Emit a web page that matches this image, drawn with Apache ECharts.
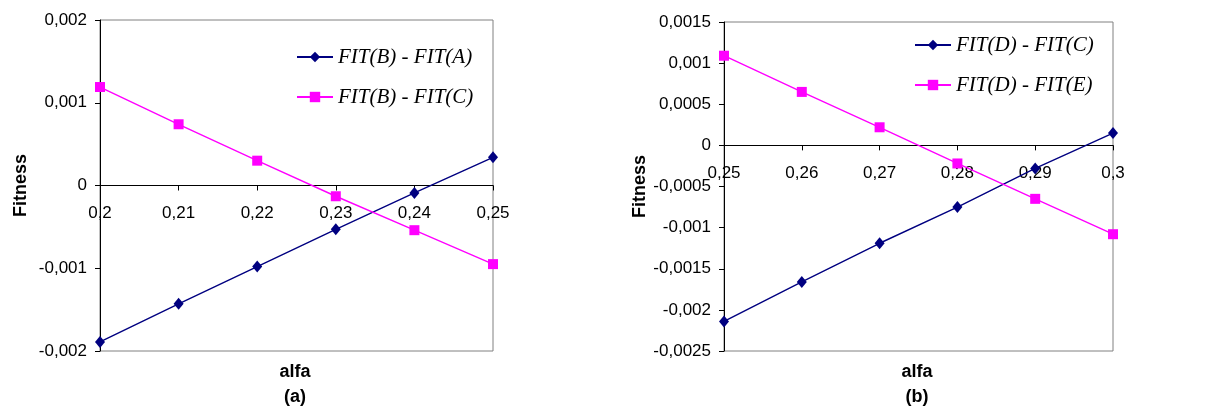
<!DOCTYPE html>
<html>
<head>
<meta charset="utf-8">
<script src="https://cdn.jsdelivr.net/npm/echarts@6/dist/echarts.min.js"></script>
<style>
html,body{margin:0;padding:0;background:#fff;}
#chart{width:1219px;height:412px;}
</style>
</head>
<body>
<div id="chart"></div>
<script>
const alfaA = ['0,2','0,21','0,22','0,23','0,24','0,25'];
const fitBminusA = [-0.00189,-0.00143,-0.00098,-0.00053,-0.00009,0.00034];
const fitBminusC = [0.00119,0.00074,0.00030,-0.00013,-0.00054,-0.00095];
const alfaB = ['0,25','0,26','0,27','0,28','0,29','0,3'];
const fitDminusC = [-0.00214,-0.00166,-0.00119,-0.00075,-0.00028,0.00015];
const fitDminusE = [0.00109,0.00065,0.00022,-0.00022,-0.00065,-0.00108];
const namesA = ['FIT(B) - FIT(A)','FIT(B) - FIT(C)'];
const namesB = ['FIT(D) - FIT(C)','FIT(D) - FIT(E)'];

const NAVY = '#000080', MAG = '#FF00FF';
const sans = 'Liberation Sans, Arial, sans-serif';
const serif = 'Liberation Serif, Times New Roman, serif';
const fmt = v => v === 0 ? '0' : String(+v.toFixed(5)).replace('.', ',');

const grids = [
  {left:100, top:20, width:393, height:331},
  {left:724, top:22, width:389, height:329}
];

function xAx(idx, cats){
  return {
    type:'category', gridIndex:idx, data:cats, boundaryGap:false, position:'bottom', offset:0,
    axisLine:{show:true, onZero:false, lineStyle:{color:'#000', width:1}},
    axisTick:{show:true, inside:false, length:5, lineStyle:{color:'#000'}},
    axisLabel:{color:'#000', fontFamily:sans, fontSize:17, margin:19},
    splitLine:{show:false}
  };
}
function yAx(idx, min, max, step, gap){
  return {
    type:'value', gridIndex:idx, min:min, max:max, interval:step,
    name:'Fitness', nameLocation:'middle', nameRotate:90, nameGap:gap,
    nameTextStyle:{color:'#000', fontFamily:sans, fontSize:18, fontWeight:'bold'},
    axisLine:{show:true, lineStyle:{color:'#000', width:1}},
    axisTick:{show:true, inside:false, length:5, lineStyle:{color:'#000'}},
    axisLabel:{color:'#000', fontFamily:sans, fontSize:17, margin:13, formatter:fmt},
    splitLine:{show:false}
  };
}
function ser(name, xi, data, color, sym, size){
  return {
    name:name, type:'line', xAxisIndex:xi, yAxisIndex:xi, data:data,
    symbol:sym, symbolSize:size, showAllSymbol:true,
    lineStyle:{color:color, width:1.4}, itemStyle:{color:color},
    emphasis:{disabled:true}, animation:false
  };
}
function leg(names, left, top){
  return {
    data:names, orient:'vertical', left:left, top:top, padding:0,
    itemWidth:36, itemHeight:13, itemGap:16,
    textStyle:{color:'#000', fontFamily:serif, fontStyle:'italic', fontSize:21, lineHeight:24, padding:[0,0,0,0]},
    selectedMode:false
  };
}
const lab = (t, x, y) => ({type:'text', x:x, y:y, style:{text:t, fill:'#000', font:'bold 18px ' + sans, textAlign:'center', textVerticalAlign:'middle'}});

const chart = echarts.init(document.getElementById('chart'), null, {renderer:'canvas'});
chart.setOption({
  backgroundColor:'#fff',
  animation:false,
  grid:grids.map(g => Object.assign({show:true, borderColor:'#808080', borderWidth:1, backgroundColor:'transparent'}, g)),
  xAxis:[xAx(0, alfaA), xAx(1, alfaB)],
  yAxis:[yAx(0, -0.002, 0.002, 0.001, 70), yAx(1, -0.0025, 0.0015, 0.0005, 74)],
  legend:[leg(namesA, 296, 45), leg(namesB, 914, 33)],
  series:[
    ser(namesA[0], 0, fitBminusA, NAVY, 'diamond', [10,12]),
    ser(namesA[1], 0, fitBminusC, MAG, 'rect', 10),
    ser(namesB[0], 1, fitDminusC, NAVY, 'diamond', [10,12]),
    ser(namesB[1], 1, fitDminusE, MAG, 'rect', 10)
  ],
  graphic:[
    lab('alfa', 295, 372), lab('(a)', 295, 397),
    lab('alfa', 917, 372), lab('(b)', 917, 397)
  ]
});
// Move each category axis (line, ticks, labels) up to the y = 0 position given by the value scale.
const offsets = grids.map((g, i) => {
  const zeroY = chart.convertToPixel({yAxisIndex:i}, 0);
  return -((g.top + g.height) - zeroY);
});
chart.setOption({xAxis:offsets.map(o => ({offset:o}))});
</script>
</body>
</html>
